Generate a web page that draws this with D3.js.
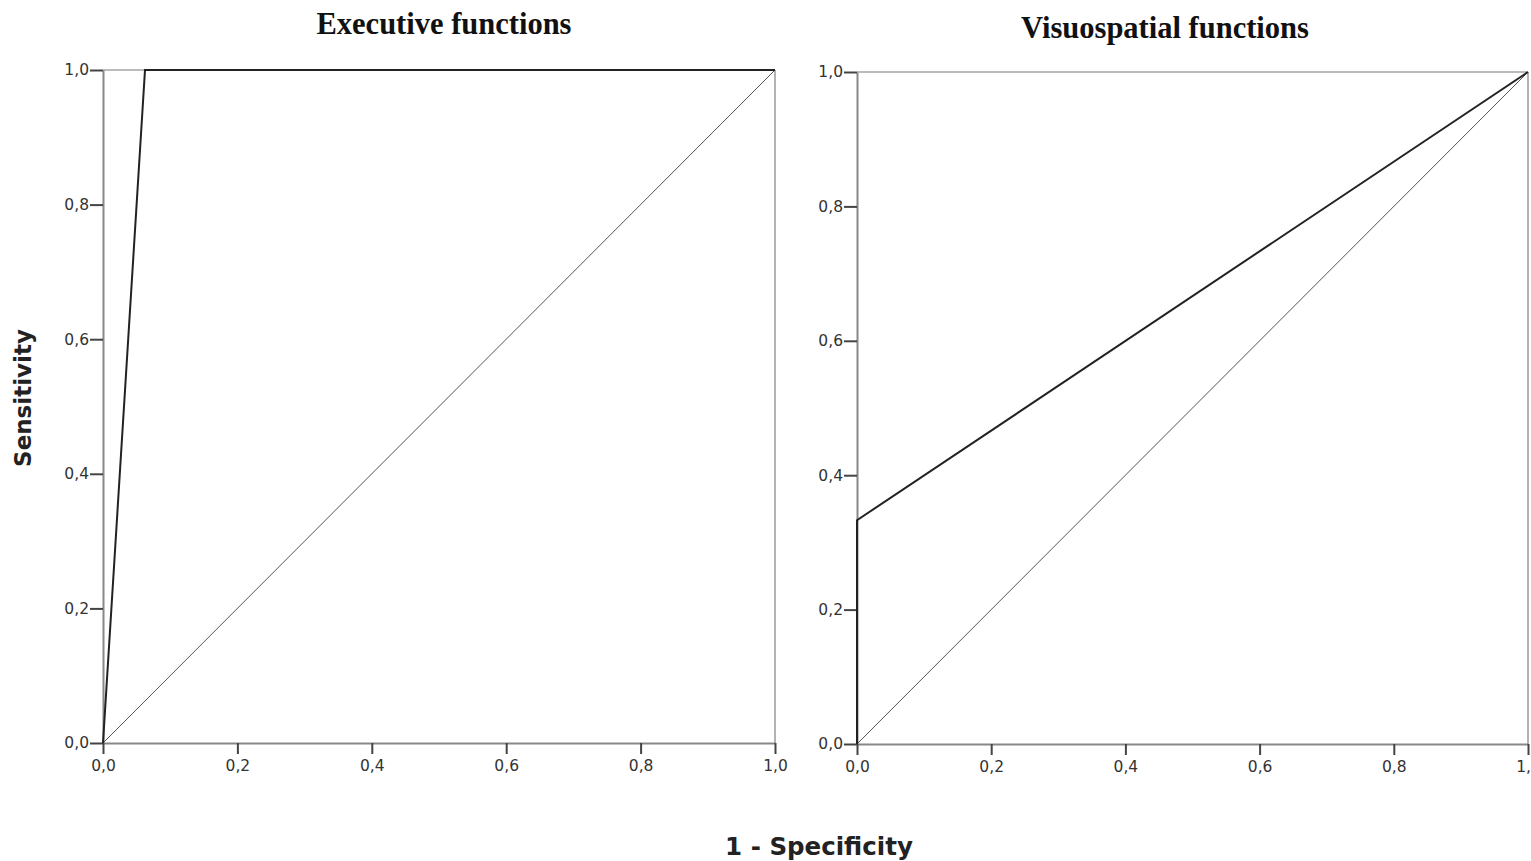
<!DOCTYPE html>
<html lang="en">
    <head>
        <title>ROC curves</title>
        <meta charset="utf-8">
        <script src="https://d3js.org/d3.v7.min.js"></script>
        <style>
            * {
                margin: 0;
                padding: 0;
            }
            body {
                background-color: white;
                overflow: hidden;
            }
        </style>
    </head>
    <body>
        <svg id="chart" width="1531" height="861"></svg>
        <script>

            // ROC curve points
            const execFpr = [0, 0.0625, 1];
            const execTpr = [0, 1, 1];
            const visuoFpr = [0, 0, 1];
            const visuoTpr = [0, 0.333, 1];
            const refLine = [0, 1];
            const tickValues = [0, 0.2, 0.4, 0.6, 0.8, 1.0];

            const panels = [
                {title: "Executive functions", fpr: execFpr, tpr: execTpr,
                 x0: 103, x1: 775, y0: 743, y1: 70, titleX: 444, titleY: 34},
                {title: "Visuospatial functions", fpr: visuoFpr, tpr: visuoTpr,
                 x0: 857, x1: 1528, y0: 744, y1: 72, titleX: 1165, titleY: 38}
            ];

            const svg = d3.select("#chart");
            const fmt = d => d3.format(".1f")(d).replace(".", ",");

            panels.forEach(p => {
                const x = d3.scaleLinear().domain([0, 1]).range([p.x0, p.x1]);
                const y = d3.scaleLinear().domain([0, 1]).range([p.y0, p.y1]);
                const g = svg.append("g");

                // frame
                g.append("line")
                    .attr("x1", x(0)).attr("x2", x(1))
                    .attr("y1", y(1)).attr("y2", y(1))
                    .attr("stroke", "#bbb").attr("stroke-width", 2);
                g.append("line")
                    .attr("x1", x(1)).attr("x2", x(1))
                    .attr("y1", y(0)).attr("y2", y(1))
                    .attr("stroke", "#999").attr("stroke-width", 1.5);

                // axes
                const yAxis = g.append("g")
                    .attr("transform", `translate(${p.x0}, 0)`)
                    .call(d3.axisLeft(y).tickValues(tickValues).tickFormat(fmt)
                        .tickSize(13).tickSizeOuter(0).tickPadding(1));
                const xAxis = g.append("g")
                    .attr("transform", `translate(0, ${p.y0})`)
                    .call(d3.axisBottom(x).tickValues(tickValues).tickFormat(fmt)
                        .tickSize(11).tickSizeOuter(0).tickPadding(6));
                [yAxis, xAxis].forEach(a => {
                    a.select(".domain").attr("stroke", "#888").attr("stroke-width", 2);
                    a.selectAll(".tick line").attr("stroke", "#444").attr("stroke-width", 2);
                    a.selectAll(".tick text")
                        .attr("font-family", "DejaVu Sans, sans-serif")
                        .attr("font-size", "15.5px")
                        .attr("fill", "#333");
                });
                // the right panel's last tick label is clipped by the page edge, as in the source

                // reference diagonal
                g.append("path")
                    .datum(refLine)
                    .attr("d", d3.line().x(d => x(d)).y(d => y(d)))
                    .attr("fill", "none")
                    .attr("stroke", "#555")
                    .attr("stroke-width", 1);

                // ROC curve
                g.append("path")
                    .datum(d3.zip(p.fpr, p.tpr))
                    .attr("d", d3.line().x(d => x(d[0])).y(d => y(d[1])))
                    .attr("fill", "none")
                    .attr("stroke", "#222")
                    .attr("stroke-width", 2);

                g.append("text")
                    .attr("x", p.titleX)
                    .attr("y", p.titleY)
                    .attr("text-anchor", "middle")
                    .attr("font-family", "Liberation Serif, Times New Roman, serif")
                    .attr("font-weight", "bold")
                    .attr("font-size", "30.5px")
                    .attr("fill", "#111")
                    .text(p.title);
            });

            svg.append("text")
                .attr("transform", "translate(31, 398) rotate(-90)")
                .attr("text-anchor", "middle")
                .attr("font-family", "DejaVu Sans, sans-serif")
                .attr("font-weight", "bold")
                .attr("font-size", "23px")
                .attr("fill", "#222")
                .text("Sensitivity");

            svg.append("text")
                .attr("x", 819)
                .attr("y", 855)
                .attr("text-anchor", "middle")
                .attr("font-family", "DejaVu Sans, sans-serif")
                .attr("font-weight", "bold")
                .attr("font-size", "24.5px")
                .attr("fill", "#222")
                .text("1 - Specificity");

        </script>
    </body>
</html>
